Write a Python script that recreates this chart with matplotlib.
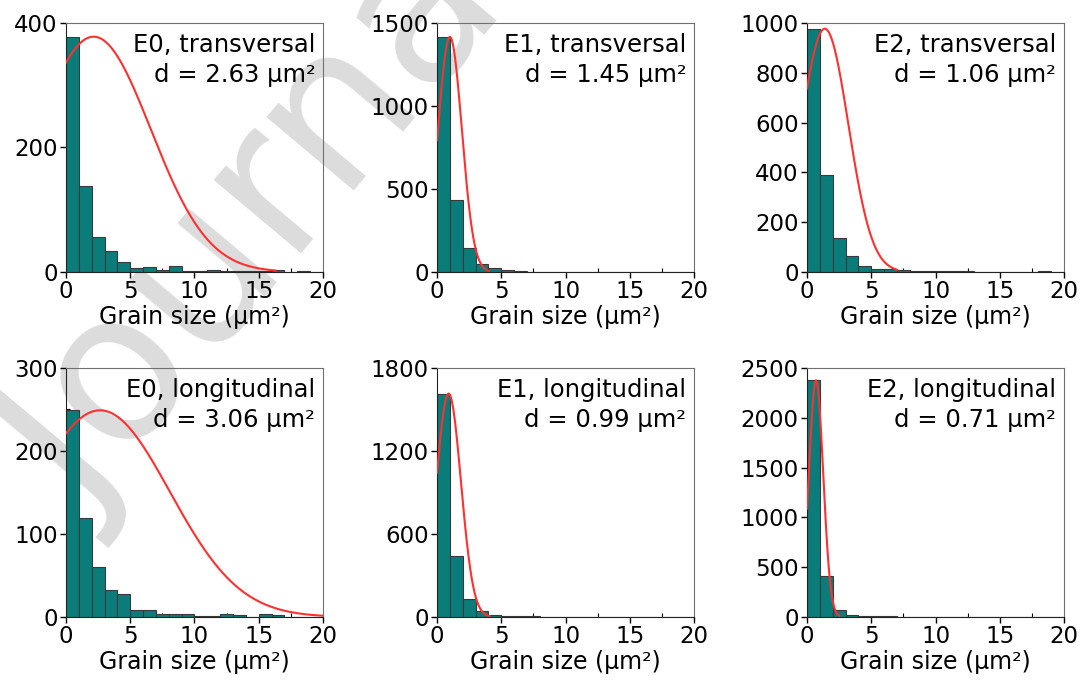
import numpy as np
import matplotlib
matplotlib.use("Agg")
import matplotlib.pyplot as plt
from matplotlib.ticker import MultipleLocator

# bin edges (1 um^2 wide, 0..20)
bin_edges = list(range(0, 21))

# counts per bin
e0_trans = [378, 138, 56, 33, 16, 6, 8, 4, 9, 2, 1, 3, 2, 1, 1, 1, 3, 0.5, 2, 0]
e1_trans = [1416, 435, 144, 48, 22, 12, 6, 3, 1, 1, 1, 0.5, 0.5, 0.5, 0.5, 0.5, 0.5, 0.5, 0.5, 0]
e2_trans = [977, 390, 136, 63, 23, 13, 12, 8, 5, 4, 3, 3, 3, 1, 1, 1, 1, 1, 4, 0]
e0_long = [249, 119, 60, 33, 28, 9, 8, 3, 3, 4, 1, 1, 3, 2, 0.5, 4, 2, 0.5, 0, 0.5]
e1_long = [1615, 442, 130, 41, 17, 8, 6, 4, 2, 1, 1, 1, 1, 1, 1, 0.5, 0.5, 0.5, 0.5, 0]
e2_long = [2376, 414, 67, 23, 13, 7, 5, 2, 1, 1, 0.5, 0.5, 0.5, 0.5, 0.5, 0, 0, 0, 0, 0]

counts = [e0_trans, e1_trans, e2_trans, e0_long, e1_long, e2_long]
labels = ["E0, transversal", "E1, transversal", "E2, transversal",
          "E0, longitudinal", "E1, longitudinal", "E2, longitudinal"]
mean_d = ["2.63", "1.45", "1.06", "3.06", "0.99", "0.71"]

# gaussian fit parameters: amplitude, centre, width, end of drawn curve
fit_amp = [378, 1416, 977, 249, 1615, 2376]
fit_mu = [2.15, 1.0, 1.38, 2.65, 0.9, 0.7]
fit_sigma = [4.45, 0.93, 1.84, 5.43, 0.96, 0.56]
fit_end = [16.3, 4.0, 7.0, 20.0, 4.1, 2.5]

y_max = [400, 1500, 1000, 300, 1800, 2500]
y_step = [200, 500, 200, 100, 600, 500]

plt.rcParams["font.family"] = "DejaVu Sans"

fig = plt.figure(figsize=(10.85, 6.86), dpi=100)

lefts = [0.0608, 0.4028, 0.7438]
bottoms = [0.6035, 0.1006]
w, h = 0.2369, 0.363

for i in range(6):
    ax = fig.add_axes([lefts[i % 3], bottoms[i // 3], w, h])
    ax.patch.set_alpha(0)
    ax.bar(bin_edges[:-1], counts[i], width=1, align="edge",
           color="#0a7d7b", edgecolor="#3a3a3a", linewidth=0.8, zorder=2)
    x = np.linspace(0, fit_end[i], 300)
    y = fit_amp[i] * np.exp(-(x - fit_mu[i]) ** 2 / (2 * fit_sigma[i] ** 2))
    ax.plot(x, y, color="#ff3030", linewidth=1.5, zorder=3)

    ax.set_xlim(0, 20)
    ax.set_ylim(0, y_max[i])
    ax.xaxis.set_major_locator(MultipleLocator(5))
    ax.xaxis.set_minor_locator(MultipleLocator(2.5))
    ax.yaxis.set_major_locator(MultipleLocator(y_step[i]))
    ax.yaxis.set_minor_locator(MultipleLocator(y_step[i] / 2))
    ax.tick_params(which="major", direction="out", length=4, width=1,
                   labelsize=16.5, pad=2)
    ax.tick_params(which="minor", direction="in", length=3, width=0.8)
    for s in ["left", "bottom"]:
        ax.spines[s].set_color("#222222")
    for s in ["top", "right"]:
        ax.spines[s].set_color("#707070")
    ax.set_xlabel("Grain size (\u03bcm\u00b2)", fontsize=17, labelpad=1)
    ax.text(0.97, 0.96, labels[i] + "\nd = " + mean_d[i] + " \u03bcm\u00b2",
            transform=ax.transAxes, ha="right", va="top", fontsize=17.5,
            linespacing=1.3, zorder=4)

# watermark, behind the plots
fig.text(0.081, 0.24, "Journal", fontsize=150, color="#dcdcdc",
         rotation=50, rotation_mode="anchor", ha="left", va="baseline",
         zorder=-1)

fig.savefig("out.png", dpi=100)
